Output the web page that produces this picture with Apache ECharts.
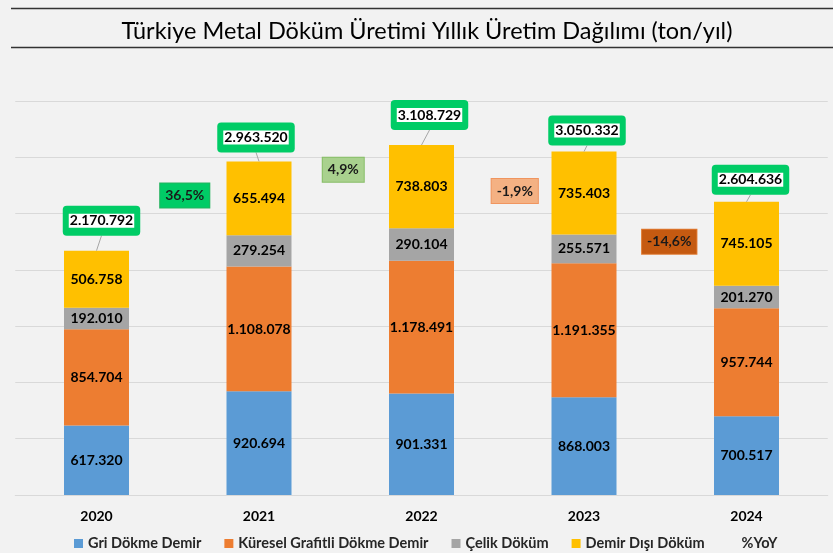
<!DOCTYPE html>
<html>
<head>
<meta charset="utf-8">
<title>Türkiye Metal Döküm Üretimi</title>
<script src="https://cdn.jsdelivr.net/npm/echarts@6/dist/echarts.min.js"></script>
<style>
    html, body { margin: 0; padding: 0; background: #f2f2f2; }
    #metal-dokum { width: 833px; height: 553px; }
</style>
</head>
<body>
<div id="metal-dokum"></div>
<script>
    // veriler (ton/yıl)
    const years = ['2020', '2021', '2022', '2023', '2024'];
    const griDokme = [617320, 920694, 901331, 868003, 700517];
    const kureselGrafitli = [854704, 1108078, 1178491, 1191355, 957744];
    const celikDokum = [192010, 279254, 290104, 255571, 201270];
    const demirDisi = [506758, 655494, 738803, 735403, 745105];
    const yoy = [36.5, 4.9, -1.9, -14.6];
    const yMax = 3500000;
    const yStep = 500000;

    // sadece yerleşim: etiket kutularının kaydırmaları
    const totalShift = [[5, -30], [-3, -24], [8, -30], [3, -21], [4, -22]];
    const yoySpot = [[7, 2660000], [3, 2890000], [12, 2700000], [4, 2250000]];
    const yoyBox = [['#00cc66', '#22b35e'], ['#a9d18e', '#86bd66'], ['#f4b183', '#f0955f'], ['#c55a11', '#e07a30']];

    const totals = years.map((y, i) => griDokme[i] + kureselGrafitli[i] + celikDokum[i] + demirDisi[i]);
    const fmt = v => String(v).replace(/\B(?=(\d{3})+(?!\d))/g, '.');
    const fmtPct = v => v.toFixed(1).replace('.', ',') + '%';
    const FONT = 'Lato';

    const chart = echarts.init(document.getElementById('metal-dokum'));

    const barSeries = (name, data, color) => ({
        name: name,
        type: 'bar',
        stack: 'toplam',
        barWidth: 65,
        data: data,
        itemStyle: { color: color },
        label: {
            show: true,
            position: 'inside',
            formatter: p => fmt(p.value),
            color: '#000',
            fontFamily: FONT,
            fontWeight: 'bold',
            fontSize: 14
        }
    });

    const option = {
        backgroundColor: '#f2f2f2',
        animation: false,
        title: {
            text: 'Türkiye Metal Döküm Üretimi Yıllık Üretim Dağılımı (ton/yıl)',
            left: 422,
            textAlign: 'center',
            top: 14,
            textStyle: { fontFamily: FONT, fontSize: 23.5, fontWeight: 'normal', color: '#000' }
        },
        graphic: [
            { type: 'line', shape: { x1: 11, y1: 8.5, x2: 833, y2: 8.5 }, style: { stroke: '#333', lineWidth: 1.5 } },
            { type: 'line', shape: { x1: 11, y1: 47.5, x2: 833, y2: 47.5 }, style: { stroke: '#333', lineWidth: 1.5 } }
        ],
        legend: {
            left: 69,
            top: 531,
            icon: 'rect',
            itemWidth: 9,
            itemHeight: 9,
            itemGap: 23,
            textStyle: { fontFamily: FONT, fontSize: 14.5, fontWeight: 'bold', color: '#262626' },
            data: [
                { name: 'Gri Dökme Demir' },
                { name: 'Küresel Grafitli Dökme Demir' },
                { name: 'Çelik Döküm' },
                { name: 'Demir Dışı Döküm' },
                { name: '%YoY', icon: 'none' }
            ]
        },
        grid: { left: 15.25, right: 5.25, top: 101, bottom: 58 },
        xAxis: {
            type: 'category',
            data: years,
            axisTick: { show: false },
            axisLine: { lineStyle: { color: '#d9d9d9' } },
            axisLabel: { margin: 14, color: '#000', fontFamily: FONT, fontSize: 14, fontWeight: 'bold' }
        },
        yAxis: {
            type: 'value',
            min: 0,
            max: yMax,
            interval: yStep,
            axisLabel: { show: false },
            axisLine: { show: false },
            splitLine: { lineStyle: { color: '#d9d9d9' } }
        },
        series: [
            barSeries('Gri Dökme Demir', griDokme, '#5b9bd5'),
            barSeries('Küresel Grafitli Dökme Demir', kureselGrafitli, '#ed7d31'),
            barSeries('Çelik Döküm', celikDokum, '#a5a5a5'),
            barSeries('Demir Dışı Döküm', demirDisi, '#ffc000'),
            {
                name: 'Toplam',
                type: 'custom',
                z: 10,
                data: totals.map((t, i) => [i, t]),
                renderItem: (params, api) => {
                    const i = params.dataIndex;
                    const top = api.coord([api.value(0), api.value(1)]);
                    const cx = top[0] + totalShift[i][0];
                    const cy = top[1] + totalShift[i][1];
                    return {
                        type: 'group',
                        children: [
                            {
                                type: 'line',
                                shape: { x1: top[0], y1: top[1], x2: cx, y2: cy + 15 },
                                style: { stroke: '#a6a6a6', lineWidth: 1 }
                            },
                            {
                                type: 'text',
                                x: cx,
                                y: cy,
                                style: {
                                    text: '{w|' + fmt(totals[i]) + '}',
                                    align: 'center',
                                    verticalAlign: 'middle',
                                    backgroundColor: '#00cc66',
                                    borderRadius: 4,
                                    padding: [7, 6],
                                    rich: {
                                        w: {
                                            backgroundColor: '#ffffff',
                                            fill: '#000',
                                            fontFamily: FONT,
                                            fontWeight: 'bold',
                                            fontSize: 14,
                                            lineHeight: 16,
                                            padding: [0, 1]
                                        }
                                    }
                                }
                            }
                        ]
                    };
                }
            },
            {
                name: '%YoY',
                type: 'custom',
                z: 10,
                data: yoySpot.map((p, i) => [i, p[1]]),
                renderItem: (params, api) => {
                    const i = params.dataIndex;
                    const a = api.coord([i, api.value(1)]);
                    const b = api.coord([i + 1, api.value(1)]);
                    return {
                        type: 'text',
                        x: (a[0] + b[0]) / 2 + yoySpot[i][0],
                        y: a[1],
                        style: {
                            text: '{p|' + fmtPct(yoy[i]) + '}',
                            align: 'center',
                            verticalAlign: 'middle',
                            backgroundColor: yoyBox[i][0],
                            borderColor: yoyBox[i][1],
                            borderWidth: 1,
                            padding: [4, 5],
                            rich: {
                                p: {
                                    fill: '#1a1a1a',
                                    fontFamily: FONT,
                                    fontWeight: 'bold',
                                    fontSize: 14,
                                    lineHeight: 16
                                }
                            }
                        }
                    };
                }
            }
        ]
    };

    chart.setOption(option);
    window.addEventListener('resize', () => {
        chart.resize();
    });
</script>
</body>
</html>
